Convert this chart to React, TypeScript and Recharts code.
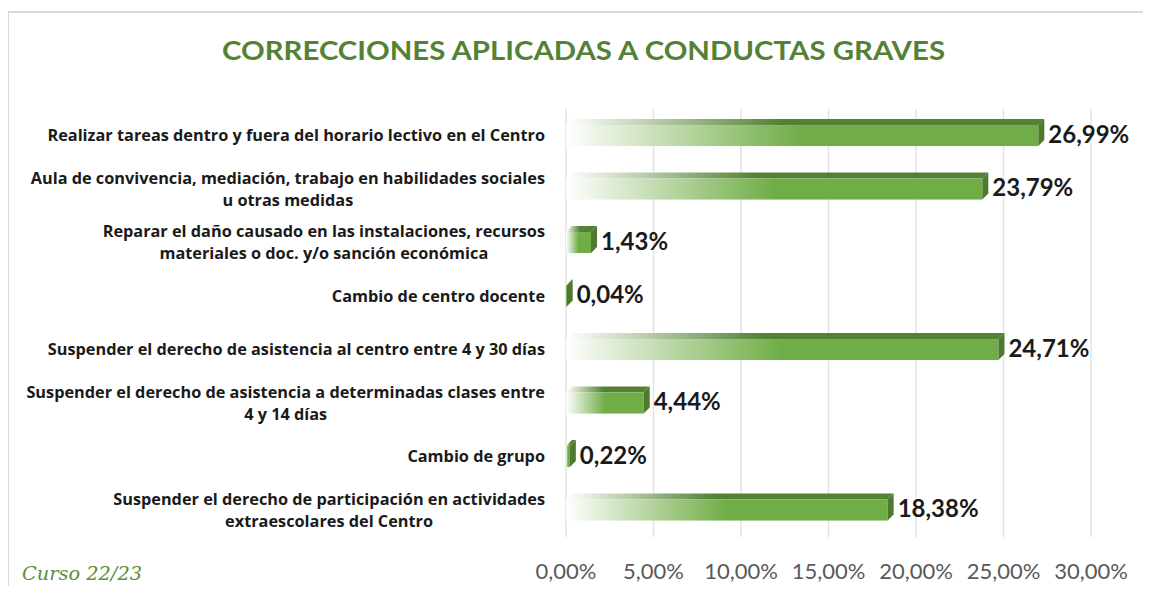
import React from "react"
import { BarChart, Bar, XAxis, YAxis, CartesianGrid, LabelList } from "recharts"

// categorías (\n = salto de línea en la etiqueta)
const categorias = [
    "Realizar tareas dentro y fuera del horario lectivo en el Centro",
    "Aula de convivencia, mediación, trabajo en habilidades sociales\nu otras medidas",
    "Reparar el daño causado en las instalaciones, recursos\nmateriales o doc. y/o sanción económica",
    "Cambio de centro docente",
    "Suspender el derecho de asistencia al centro entre 4 y 30 días",
    "Suspender el derecho de asistencia a determinadas clases entre\n4 y 14 días",
    "Cambio de grupo",
    "Suspender el derecho de participación en actividades\nextraescolares del Centro",
]

const porcentajes = [26.99, 23.79, 1.43, 0.04, 24.71, 4.44, 0.22, 18.38]

const ticksX = [0, 5, 10, 15, 20, 25, 30]

const data = categorias.map((c, i) => ({ categoria: c, valor: porcentajes[i] }))

const VERDE = "#70ad47"
const VERDE_OSCURO = "#548235"
const DEPTH = 6

const fmt = (v: number) => v.toFixed(2).replace(".", ",") + "%"

let ctx: CanvasRenderingContext2D | null = null
function medir(txt: string, font: string) {
    if (!ctx) ctx = document.createElement("canvas").getContext("2d")
    if (!ctx) return txt.length * 8
    ctx.font = font
    return ctx.measureText(txt).width
}

const LABEL_SIZE = 16.3
const LABEL_FONT = `bold ${LABEL_SIZE}px 'Open Sans'`

function CategoriaTick(props: any) {
    const { x, y, payload } = props
    const lines: string[] = String(payload.value).split("\n")
    const maxW = Math.max(...lines.map((l) => medir(l, LABEL_FONT)))
    const cx = x - maxW / 2
    const lh = 22
    const y0 = y - ((lines.length - 1) * lh) / 2
    return (
        <text fontFamily="Open Sans" fontWeight="bold" fontSize={LABEL_SIZE} fill="#1a1a1a" textAnchor="middle">
            {lines.map((l, i) => (
                <tspan key={i} x={cx} y={y0 + i * lh} dy="0.35em">
                    {l}
                </tspan>
            ))}
        </text>
    )
}

function Barra3D(props: any) {
    const { x, y, width, height, index } = props
    const d = DEPTH
    const w = Math.max(width, 0)
    const gf = `front-${index}`
    const gt = `top-${index}`
    return (
        <g>
            <defs>
                <linearGradient id={gf} x1="0" y1="0" x2="1" y2="0">
                    <stop offset="0" stopColor="#ffffff" />
                    <stop offset="0.06" stopColor="#eef5e8" />
                    <stop offset="0.5" stopColor={VERDE} />
                    <stop offset="1" stopColor={VERDE} />
                </linearGradient>
                <linearGradient id={gt} x1="0" y1="0" x2="1" y2="0">
                    <stop offset="0" stopColor="#ffffff" />
                    <stop offset="0.45" stopColor={VERDE_OSCURO} />
                    <stop offset="1" stopColor={VERDE_OSCURO} />
                </linearGradient>
            </defs>
            <polygon
                points={`${x},${y} ${x + d},${y - d} ${x + w + d},${y - d} ${x + w},${y}`}
                fill={`url(#${gt})`}
            />
            <rect x={x} y={y} width={w} height={height} fill={`url(#${gf})`} />
            <polygon
                points={`${x + w},${y} ${x + w + d},${y - d} ${x + w + d},${y + height - d} ${x + w},${y + height}`}
                fill="#4e7a2f"
            />
        </g>
    )
}

function ValorLabel(props: any) {
    const { x, y, width, height, value } = props
    return (
        <text
            x={x + width + DEPTH + 4}
            y={y + height / 2 - 1}
            dy="0.35em"
            fontFamily="Lato"
            fontWeight="bold"
            fontSize={24}
            fill="#1a1a1a"
        >
            {fmt(value)}
        </text>
    )
}

export default function App() {
    return (
        <div style={{ position: "relative", width: 1143, height: 578, overflow: "hidden", fontFamily: "Lato" }}>
            <div
                style={{
                    position: "absolute",
                    left: -1,
                    top: 3,
                    width: 1150,
                    height: 600,
                    borderTop: "2px solid #d9d9d9",
                    borderLeft: "2px solid #d9d9d9",
                }}
            />
            <div style={{ position: "absolute", left: 0, top: 0 }}>
                <BarChart
                    width={1143}
                    height={578}
                    data={data}
                    layout="vertical"
                    margin={{ top: 101, right: 60, bottom: 19, left: 0 }}
                    barCategoryGap="30%"
                >
                    <CartesianGrid horizontal={false} stroke="#e3e3e3" strokeWidth={1.5} />
                    <XAxis
                        type="number"
                        domain={[0, 30]}
                        ticks={ticksX}
                        tickFormatter={fmt}
                        axisLine={false}
                        tickLine={false}
                        tickSize={0}
                        tickMargin={26}
                        height={30}
                        tick={{ fill: "#595959", fontSize: 22, fontFamily: "Lato" }}
                        interval={0}
                    />
                    <YAxis
                        type="category"
                        dataKey="categoria"
                        width={558}
                        axisLine={false}
                        tickLine={false}
                        tickSize={0}
                        tickMargin={21}
                        tick={<CategoriaTick />}
                        interval={0}
                    />
                    <Bar dataKey="valor" shape={<Barra3D />} isAnimationActive={false}>
                        <LabelList dataKey="valor" content={<ValorLabel />} />
                    </Bar>
                </BarChart>
            </div>
            <svg width={1143} height={578} style={{ position: "absolute", left: 0, top: 0, pointerEvents: "none" }}>
                <text
                    x={214}
                    y={52}
                    textLength={723}
                    lengthAdjust="spacingAndGlyphs"
                    fontFamily="Lato"
                    fontWeight="bold"
                    fontSize={26}
                    fill={VERDE_OSCURO}
                >
                    CORRECCIONES  APLICADAS A CONDUCTAS GRAVES
                </text>
                <text
                    x={14}
                    y={572}
                    textLength={120}
                    lengthAdjust="spacingAndGlyphs"
                    fontFamily="DejaVu Serif"
                    fontStyle="italic"
                    fontSize={19}
                    fill="#5a8f3c"
                >
                    Curso 22/23
                </text>
            </svg>
        </div>
    )
}
